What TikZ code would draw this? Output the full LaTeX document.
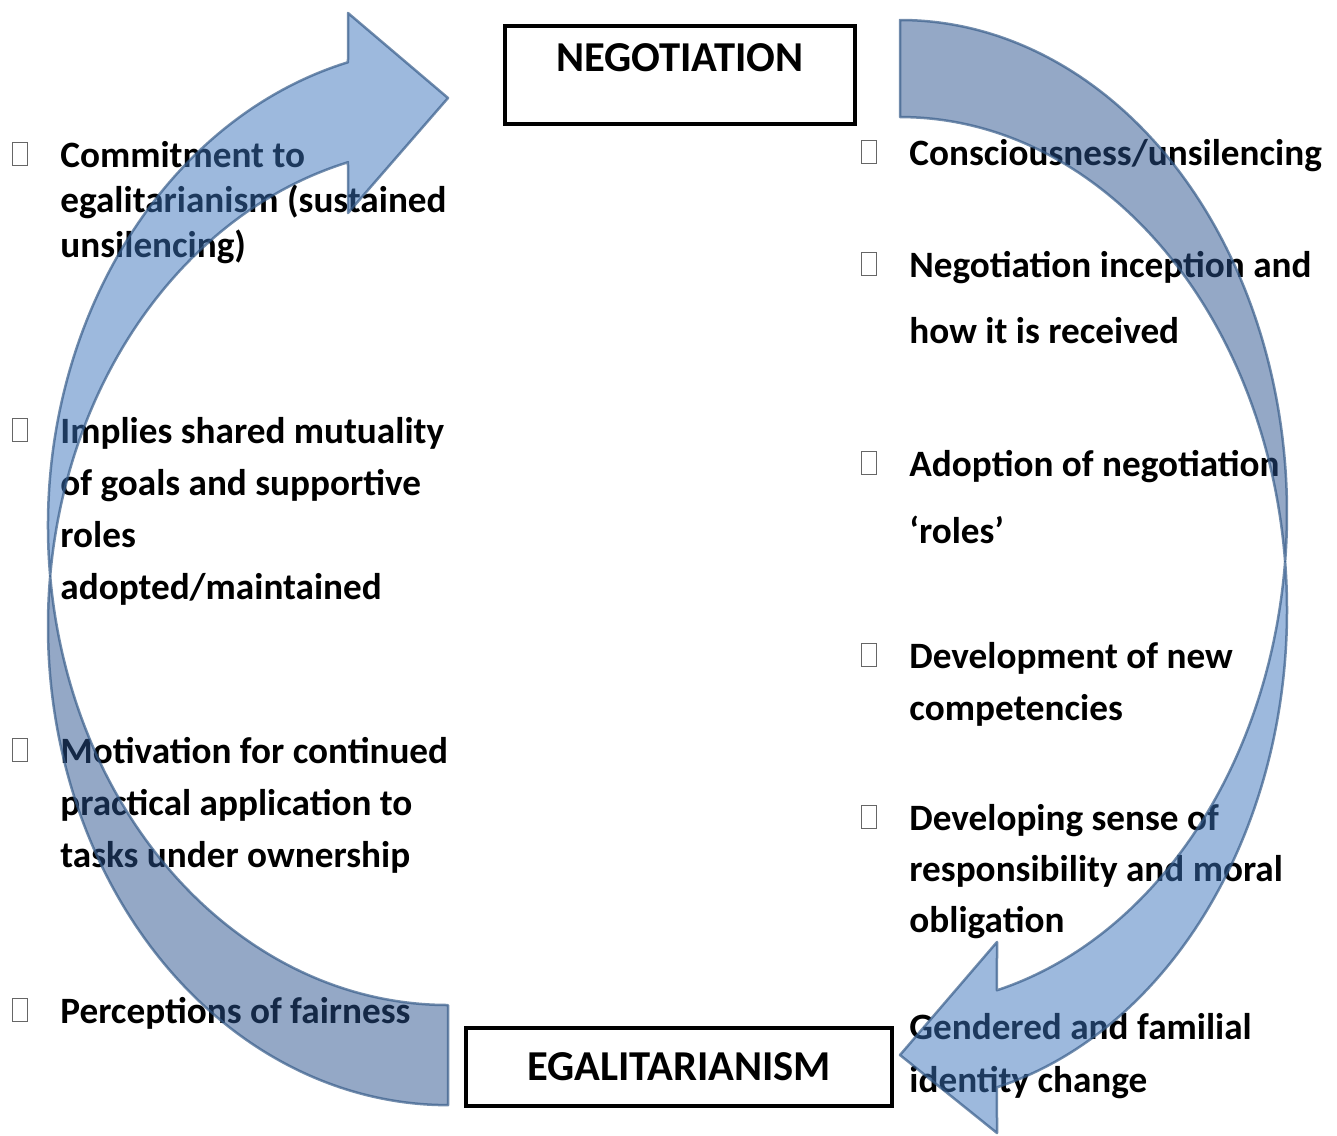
\documentclass[tikz,border=0pt]{standalone}
\usepackage{fontspec}
\setmainfont{Carlito}
\usetikzlibrary{calc}
\definecolor{frontfill}{RGB}{59,115,187}
\definecolor{backfill}{RGB}{41,81,141}
\definecolor{edgecol}{RGB}{56,93,138}
\newcommand\mylines[2]{\vtop{\baselineskip=#1\lineskiplimit=-20pt\relax #2}}
\begin{document}
\begin{tikzpicture}[x=0.5pt,y=-0.5pt,
  txt/.style={anchor=base west, inner sep=0pt, font=\bfseries\fontsize{18.6}{22}\selectfont},
  bul/.style={draw=black!60, line width=0.5pt, minimum width=7.5pt, minimum height=11.5pt, inner sep=0pt, anchor=south west},
  boxnode/.style={draw=black, line width=2pt, inner sep=0pt, anchor=base, font=\bfseries\fontsize{21.3}{24}\selectfont},
  arrowfront/.style={fill=frontfill, fill opacity=0.5, draw=edgecol, draw opacity=0.7, line width=1.25pt, line join=round},
  arrowback/.style={fill=backfill, fill opacity=0.5, draw=edgecol, draw opacity=0.7, line width=1.25pt, line join=round}]
\useasboundingbox (0,0) rectangle (1337,1135);

% left column
\node[bul] (lb1) at (12,166) {};
\node[txt] (l1) at (60,167) {\mylines{22.5pt}{\hbox{Commitment to}\hbox{egalitarianism (sustained}\hbox{unsilencing)}}};
\node[bul] (lb2) at (12,442) {};
\node[txt] (l2) at (60,443) {\mylines{26pt}{\hbox{Implies shared mutuality}\hbox{of goals and supportive}\hbox{roles}\hbox{adopted/maintained}}};
\node[bul] (lb3) at (12,762) {};
\node[txt] (l3) at (60,763) {\mylines{26pt}{\hbox{Motivation for continued}\hbox{practical application to}\hbox{tasks under ownership}}};
\node[bul] (lb4) at (12,1022) {};
\node[txt] (l4) at (60,1023) {Perceptions of fairness};

% right column
\node[bul] (rb1) at (861,164) {};
\node[txt] (r1) at (909,165) {Consciousness/unsilencing};
\node[bul] (rb2) at (861,276) {};
\node[txt] (r2) at (909,277) {\mylines{33.25pt}{\hbox{Negotiation inception and}\hbox{how it is received}}};
\node[bul] (rb3) at (861,475) {};
\node[txt] (r3) at (909,476) {\mylines{33.5pt}{\hbox{Adoption of negotiation}\hbox{‘roles’}}};
\node[bul] (rb4) at (861,667) {};
\node[txt] (r4) at (909,668) {\mylines{26pt}{\hbox{Development of new}\hbox{competencies}}};
\node[bul] (rb5) at (861,829) {};
\node[txt] (r5) at (909,830) {\mylines{25.5pt}{\hbox{Developing sense of}\hbox{responsibility and moral}\hbox{obligation}}};
\node[txt] (r6) at (909,1039) {\mylines{26.75pt}{\hbox{Gendered and familial}\hbox{identity change}}};

% boxes
\node[boxnode, minimum width=175pt, text height=22.5pt, text depth=26.5pt] (neg) at (680,71) {NEGOTIATION};
\node[boxnode, minimum width=213pt, text height=26pt, text depth=13pt] (egal) at (679,1080) {EGALITARIANISM};

% left curved arrow
\coordinate (cl) at ($(448,526)+(174:400 and 479)$);
\path[arrowback] (cl) arc[start angle=186, end angle=90, x radius=400, y radius=479]
  -- (448,1005) arc[start angle=90, end angle=174, x radius=400, y radius=479] -- cycle;
\path[arrowfront] (cl) arc[start angle=174, end angle=255.52, x radius=400, y radius=479]
  -- (348,13) -- (448,98) -- (348,213) -- ($(448,626)+(255.52:400 and 479)$)
  arc[start angle=255.52, end angle=186, x radius=400, y radius=479] -- cycle;

% right curved arrow
\coordinate (cr) at ($(900,513)+(5.65:387 and 493)$);
\path[arrowback] (900,20) arc[start angle=270, end angle=365.65, x radius=387, y radius=493]
  arc[start angle=354.35, end angle=270, x radius=387, y radius=493] -- cycle;
\path[arrowfront] (cr) arc[start angle=-5.65, end angle=75.49, x radius=387, y radius=493]
  -- (997,1133) -- (900,1055) -- (997,942) -- ($(900,513)+(75.49:387 and 493)$)
  arc[start angle=75.49, end angle=5.65, x radius=387, y radius=493] -- cycle;
\end{tikzpicture}
\end{document}
